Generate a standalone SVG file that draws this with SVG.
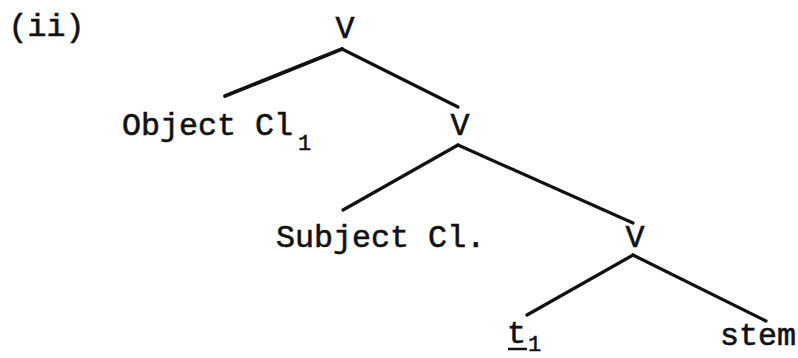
<svg xmlns="http://www.w3.org/2000/svg" width="798" height="358" viewBox="0 0 798 358">
  <style>
    .t { font-family: "Liberation Mono", "Courier New", monospace; font-size: 31.7px; fill: #111; stroke: #111; stroke-width: 0.6; }
    .c { text-anchor: middle; }
    .sub { font-family: "Liberation Mono", "Courier New", monospace; font-size: 22px; fill: #111; stroke: #111; stroke-width: 0.5; }
    .edge { stroke: #111; stroke-width: 3.2; stroke-linecap: round; fill: none; }
  </style>
  <rect width="798" height="358" fill="#fff"/>
  <text class="t c" x="46.5" y="36">(ii)</text>
  <g id="connectors">
    <line class="edge" x1="342" y1="49" x2="225" y2="96" style="stroke-width:3.8"/>
    <line class="edge" x1="342" y1="49" x2="458" y2="107"/>
    <line class="edge" x1="458" y1="145" x2="343" y2="210"/>
    <line class="edge" x1="458" y1="145" x2="633" y2="223"/>
    <line class="edge" x1="633" y1="255" x2="527" y2="315"/>
    <line class="edge" x1="633" y1="255" x2="766" y2="321"/>
  </g>
  <g id="v1"><text class="t c" x="345" y="38">V</text></g>
  <g id="object-cl"><text class="t" x="122" y="135">Object Cl</text><text class="sub" x="298" y="150">1</text></g>
  <g id="v2"><text class="t c" x="460" y="135">V</text></g>
  <g id="subject-cl"><text class="t" x="276" y="247">Subject Cl.</text></g>
  <g id="v3"><text class="t c" x="635" y="247">V</text></g>
  <g id="trace"><text class="t" x="507" y="343">t</text><line x1="508" y1="349" x2="527" y2="349" stroke="#111" stroke-width="2.5"/><text class="sub" x="528" y="351">1</text></g>
  <g id="stem"><text class="t" x="720" y="345">stem</text></g>
</svg>
